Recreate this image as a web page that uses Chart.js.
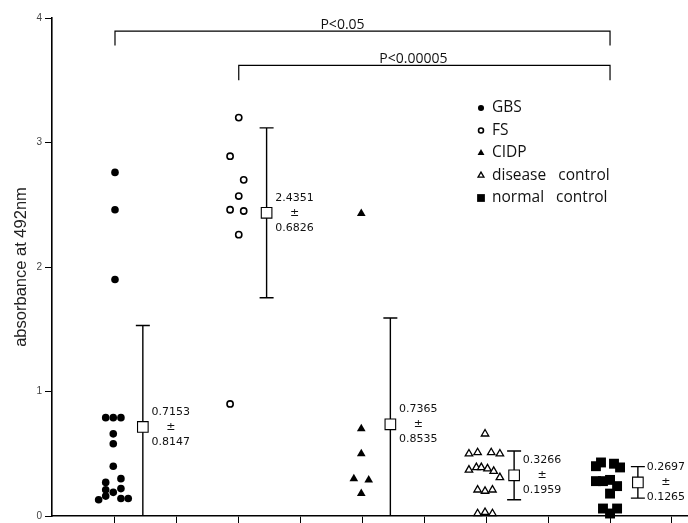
<!DOCTYPE html>
<html>
<head>
<meta charset="utf-8">
<script src="https://cdn.jsdelivr.net/npm/chart.js@4.4.1/dist/chart.umd.min.js"></script>
<style>
  html, body { margin: 0; padding: 0; background: #fff; }
  #wrap { width: 688px; height: 523px; }
</style>
</head>
<body>
<div id="wrap"><canvas id="chart" width="688" height="523"></canvas></div>
<script>
/* ─── Data ──────────────────────────────────────────────────────────────── */
const groups   = ['GBS', 'FS', 'CIDP', 'disease   control', 'normal   control'];
const groupPos = [1, 2, 3, 4, 5];

// individual absorbance readings (x = group position incl. scatter spread)
const gbsX = [1.00, 1.00, 1.00, 0.925, 0.986, 1.048, 0.986, 0.986, 0.986, 0.925, 1.048, 0.925, 0.986, 1.048, 0.925, 0.868, 1.048, 1.107];
const gbsY = [2.76, 2.46, 1.90, 0.79, 0.79, 0.79, 0.66, 0.58, 0.40, 0.27, 0.30, 0.21, 0.19, 0.22, 0.16, 0.13, 0.14, 0.14];

const fsX = [2.00, 1.93, 2.04, 2.00, 1.93, 2.04, 2.00, 1.93];
const fsY = [3.20, 2.89, 2.70, 2.57, 2.46, 2.45, 2.26, 0.90];

const cidpX = [2.99, 2.99, 2.99, 2.93, 3.05, 2.99];
const cidpY = [2.43, 0.70, 0.50, 0.30, 0.29, 0.18];

const dcX = [3.99, 3.86, 3.93, 4.04, 4.11, 3.86, 3.92, 3.96, 4.01, 4.06, 4.11, 3.93, 3.99, 4.05, 3.93, 3.99, 4.05];
const dcY = [0.66, 0.50, 0.51, 0.51, 0.50, 0.37, 0.39, 0.39, 0.38, 0.36, 0.31, 0.21, 0.20, 0.21, 0.02, 0.03, 0.02];

const ncX = [4.886, 4.927, 5.032, 5.081, 4.886, 4.943, 5.00, 5.00, 5.057, 4.943, 5.057, 5.00];
const ncY = [0.40, 0.43, 0.42, 0.39, 0.28, 0.28, 0.29, 0.18, 0.24, 0.06, 0.06, 0.02];

const means = [0.7153, 2.4351, 0.7365, 0.3266, 0.2697];
const sds   = [0.8147, 0.6826, 0.8535, 0.1959, 0.1265];

const yTicks = [0, 1, 2, 3, 4];
const xTicks = [1, 1.5, 2, 2.5, 3, 3.5, 4, 4.5, 5, 5.5];

const comparisons = [
  { from: 0, to: 4, label: 'P<0.05' },
  { from: 1, to: 4, label: 'P<0.00005' }
];

/* ─── Helpers ───────────────────────────────────────────────────────────── */
const MEAN_OFFSET = 0.225;
const pts = (xs, ys) => xs.map((x, i) => ({ x, y: ys[i] }));

const markerStyles = [
  { pointStyle: 'circle',   radius: 3.8, backgroundColor: '#000', borderColor: '#000', borderWidth: 0 },
  { pointStyle: 'circle',   radius: 3.1, backgroundColor: '#fff', borderColor: '#000', borderWidth: 1.6 },
  { pointStyle: 'triangle', radius: 5.0, backgroundColor: '#000', borderColor: '#000', borderWidth: 0 },
  { pointStyle: 'triangle', radius: 4.3, backgroundColor: '#fff', borderColor: '#000', borderWidth: 1.3 },
  { pointStyle: 'rect',     radius: 7.0, backgroundColor: '#000', borderColor: '#000', borderWidth: 0 }
];

const seriesData = [pts(gbsX, gbsY), pts(fsX, fsY), pts(cidpX, cidpY), pts(dcX, dcY), pts(ncX, ncY)];

/* ─── Plugins ───────────────────────────────────────────────────────────── */
const errorBars = {
  id: 'errorBars',
  beforeDatasetsDraw(chart) {
    const { ctx, scales: { x, y } } = chart;
    ctx.save();
    ctx.strokeStyle = '#000';
    ctx.lineWidth = 1.4;
    means.forEach((m, i) => {
      const px  = x.getPixelForValue(groupPos[i] + MEAN_OFFSET);
      const lo  = m - sds[i];
      const hi  = m + sds[i];
      const top = y.getPixelForValue(hi);
      const bot = y.getPixelForValue(Math.max(lo, 0));
      ctx.beginPath();
      ctx.moveTo(px, top); ctx.lineTo(px, bot);
      ctx.moveTo(px - 7, top); ctx.lineTo(px + 7, top);
      if (lo > 0) { ctx.moveTo(px - 7, bot); ctx.lineTo(px + 7, bot); }
      ctx.stroke();
    });
    ctx.restore();
  },
  afterDatasetsDraw(chart) {
    const { ctx, scales: { x, y } } = chart;
    ctx.save();
    ctx.fillStyle = '#111';
    ctx.font = '11px "DejaVu Sans"';
    ctx.textAlign = 'center';
    ctx.textBaseline = 'middle';
    means.forEach((m, i) => {
      const px = x.getPixelForValue(groupPos[i] + MEAN_OFFSET) + 28;
      const py = y.getPixelForValue(m);
      ctx.fillText(m.toFixed(4), px, py - 15);
      ctx.fillText('±', px, py);
      ctx.fillText(sds[i].toFixed(4), px, py + 15);
    });
    ctx.restore();
  }
};

const annotations = {
  id: 'annotations',
  afterDraw(chart) {
    const { ctx, scales: { x, y } } = chart;
    ctx.save();

    /* significance brackets */
    const levels = [[3.895, 3.78], [3.62, 3.50]];
    const shift  = [-20, -11];
    ctx.strokeStyle = '#000';
    ctx.lineWidth = 1.2;
    ctx.fillStyle = '#111';
    ctx.font = '14px "Open Sans"';
    ctx.textAlign = 'center';
    ctx.textBaseline = 'bottom';
    comparisons.forEach((c, i) => {
      const x1 = x.getPixelForValue(groupPos[c.from]);
      const x2 = x.getPixelForValue(groupPos[c.to]);
      const yl = y.getPixelForValue(levels[i][0]);
      const yd = y.getPixelForValue(levels[i][1]);
      ctx.beginPath();
      ctx.moveTo(x1, yd); ctx.lineTo(x1, yl); ctx.lineTo(x2, yl); ctx.lineTo(x2, yd);
      ctx.stroke();
      ctx.fillText(c.label, (x1 + x2) / 2 + shift[i], yl + 1);
    });

    /* legend */
    ctx.font = '15.5px "Open Sans"';
    ctx.textAlign = 'left';
    ctx.textBaseline = 'middle';
    groups.forEach((g, i) => {
      const ly = 108 + i * 22.5;
      const s  = markerStyles[i];
      ctx.fillStyle = s.backgroundColor;
      ctx.strokeStyle = s.borderColor;
      ctx.lineWidth = s.borderWidth;
      Chart.helpers.drawPoint(ctx, {
        pointStyle: s.pointStyle,
        radius: s.pointStyle === 'rect' ? 5.5 : s.radius * 0.8,
        rotation: 0,
        borderWidth: s.borderWidth
      }, 481, ly);
      ctx.fillStyle = '#111';
      ctx.fillText(g, 492, ly);
    });
    ctx.restore();
  }
};

/* ─── Chart ─────────────────────────────────────────────────────────────── */
const datasets = seriesData.map((data, i) => ({
  label: groups[i],
  data,
  pointStyle: markerStyles[i].pointStyle,
  pointRadius: markerStyles[i].radius,
  pointBackgroundColor: markerStyles[i].backgroundColor,
  pointBorderColor: markerStyles[i].borderColor,
  pointBorderWidth: markerStyles[i].borderWidth,
  clip: false
}));

datasets.push({
  label: 'mean',
  data: means.map((m, i) => ({ x: groupPos[i] + MEAN_OFFSET, y: m })),
  pointStyle: 'rect',
  pointRadius: 7.5,
  pointBackgroundColor: '#fff',
  pointBorderColor: '#000',
  pointBorderWidth: 1.1,
  clip: false
});

new Chart(document.getElementById('chart'), {
  type: 'scatter',
  data: { datasets },
  options: {
    responsive: false,
    animation: false,
    layout: { autoPadding: false, padding: { top: 18, right: 0, bottom: 0, left: 0 } },
    plugins: { legend: { display: false }, tooltip: { enabled: false } },
    scales: {
      x: {
        type: 'linear',
        min: 0.491,
        max: 5.63,
        afterBuildTicks: axis => { axis.ticks = xTicks.map(v => ({ value: v })); },
        afterFit: axis => { axis.height = 7; axis.paddingLeft = 0; axis.paddingRight = 0; },
        ticks: { display: false },
        grid: { drawOnChartArea: false, drawTicks: true, tickLength: 7, color: '#000', lineWidth: 1 },
        border: { display: true, color: '#000', width: 1.6 }
      },
      y: {
        min: 0,
        max: 4,
        afterBuildTicks: axis => { axis.ticks = yTicks.map(v => ({ value: v })); },
        afterFit: axis => { axis.width = 52; axis.paddingTop = 0; axis.paddingBottom = 0; },
        ticks: { color: '#444', padding: 3, font: { family: 'Liberation Sans', size: 10 } },
        grid: { drawOnChartArea: false, drawTicks: true, tickLength: 7, color: '#000', lineWidth: 1 },
        border: { display: true, color: '#000', width: 1.6 },
        title: {
          display: true,
          text: 'absorbance at 492nm',
          color: '#222',
          font: { family: 'Liberation Sans', size: 16.5 },
          padding: { top: 12, bottom: 0 }
        }
      }
    }
  },
  plugins: [errorBars, annotations]
});
</script>
</body>
</html>
